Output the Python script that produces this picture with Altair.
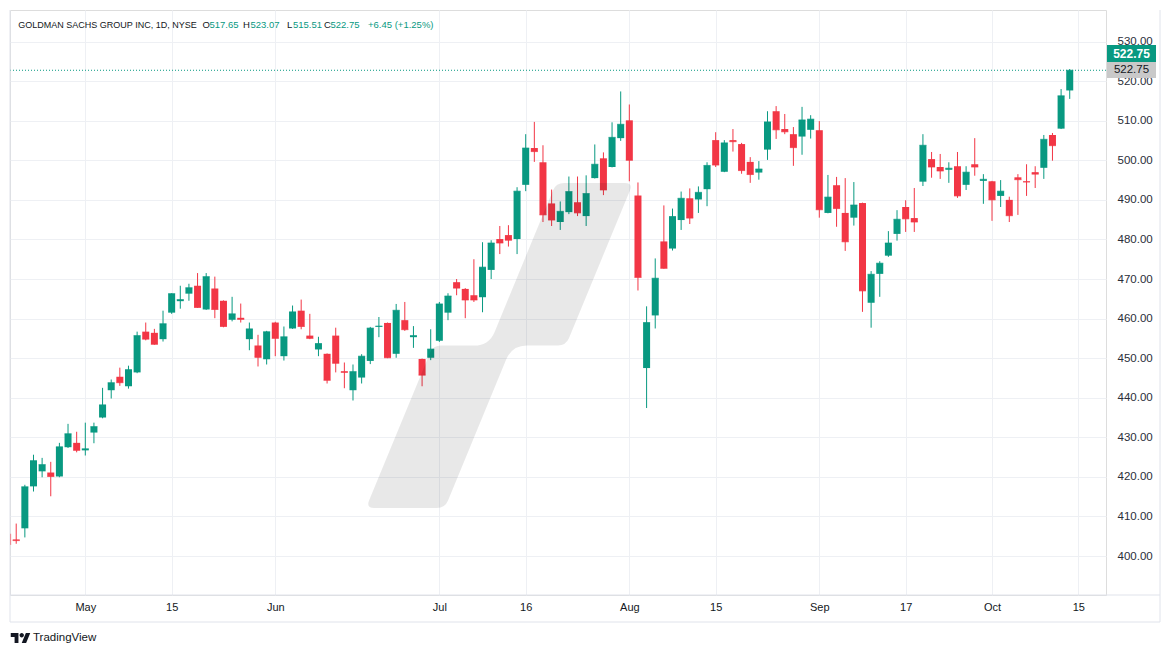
import math
import altair as alt
import pandas as pd

# ---------------- data (daily candles, 18 Apr 2024 .. 14 Oct 2024) ----------------
# trading-day index: 0 = 1 May 2024
first_index = -9
opens = [405.6, 404.2, 407.0, 417.6, 421.4, 421.1, 420.1, 427.5, 428.6,
         426.7, 431.2, 435.0, 441.9, 445.3, 442.9, 446.4, 456.7, 456.4, 454.8, 461.5, 464.4, 466.3,
         468.3, 462.3, 467.6, 464.5, 459.7, 460.2, 454.8, 453.2, 449.7,
         459.0, 450.5, 457.5, 462.0, 455.7, 452.2, 451.1, 455.7, 446.7, 441.9, 445.1, 449.3,
         457.9, 458.9, 451.1, 459.6, 455.3, 449.8, 450.1,
         454.4, 461.5, 469.2, 467.5, 465.9, 465.4, 472.3, 480.1, 481.1, 480.1, 493.8, 503.1,
         499.5, 489.1, 484.4, 486.9, 489.4, 485.9, 495.5, 500.5, 498.3, 505.6,
         510.1, 491.1, 447.5, 460.8, 479.5, 477.7, 484.9, 490.4, 490.1, 492.7, 505.1, 497.1,
         505.1, 504.1, 499.6, 496.9, 502.7, 512.4, 507.9, 506.6, 506.0, 507.7,
         507.6, 486.7, 493.7, 486.7, 485.5, 489.2, 464.0, 471.3, 475.9, 481.4, 488.2, 485.4,
         494.6, 500.3, 498.3, 497.6, 498.5, 493.8, 499.0, 494.8,
         494.7, 491.0, 490.0, 495.7, 494.7, 497.0, 498.1, 506.4, 508.0, 517.65]
highs = [405.8, 408.2, 418.0, 425.6, 424.8, 423.8, 428.6, 433.4, 431.4,
         433.7, 433.7, 442.5, 444.6, 447.6, 448.1, 456.7, 459.0, 457.4, 462.0, 466.4, 468.3, 468.8,
         471.5, 471.5, 470.6, 464.6, 465.5, 463.8, 459.0, 455.9, 456.9,
         459.2, 458.0, 463.3, 464.8, 461.2, 455.4, 451.2, 457.7, 448.9, 448.4, 451.0, 457.9,
         460.4, 459.0, 463.7, 464.2, 458.1, 449.9, 457.3,
         464.2, 466.4, 470.0, 467.7, 475.0, 479.3, 479.8, 483.4, 483.6, 493.2, 506.6, 509.7,
         503.8, 492.6, 489.6, 495.9, 495.9, 496.2, 504.0, 502.0, 509.6, 517.4,
         514.1, 494.4, 463.1, 475.2, 488.6, 487.8, 492.1, 492.9, 493.4, 499.5, 507.1, 505.1,
         507.9, 504.4, 500.8, 499.8, 512.4, 513.7, 511.7, 508.4, 513.5, 511.4,
         509.9, 496.3, 495.8, 495.5, 494.5, 489.3, 472.0, 474.5, 482.1, 487.4, 489.9, 493.0,
         506.6, 502.1, 501.6, 499.5, 502.1, 498.5, 505.6, 496.5,
         494.8, 495.0, 490.8, 496.5, 499.0, 498.5, 506.4, 506.9, 518.0, 523.07]
lows = [402.9, 403.1, 404.7, 416.3, 419.9, 415.1, 419.9, 427.3, 426.2,
        425.4, 428.5, 434.8, 439.8, 443.0, 442.3, 446.2, 454.5, 453.4, 454.2, 461.2, 462.5, 464.5,
        462.7, 462.2, 460.1, 457.8, 459.3, 459.0, 452.0, 447.9, 448.4,
        450.5, 449.4, 457.4, 457.3, 454.8, 450.5, 443.6, 446.4, 442.4, 439.3, 443.6, 448.5,
        455.3, 450.0, 450.1, 456.9, 452.6, 442.9, 449.5,
        454.1, 459.6, 465.9, 460.1, 464.2, 461.6, 470.0, 476.3, 478.2, 476.3, 492.2, 499.6,
        484.4, 483.4, 482.4, 486.4, 485.9, 483.4, 495.4, 491.2, 498.2, 504.9,
        494.7, 467.1, 437.4, 457.5, 472.6, 477.2, 482.4, 483.9, 486.7, 488.4, 498.3, 497.0,
        502.2, 496.6, 494.3, 495.1, 500.1, 505.4, 506.6, 498.6, 501.4, 505.5,
        485.5, 486.6, 483.2, 477.1, 483.5, 461.7, 457.7, 465.5, 475.6, 479.7, 481.9, 481.9,
        493.5, 495.6, 495.3, 494.3, 490.5, 492.5, 496.1, 489.0,
        484.7, 488.2, 484.4, 486.2, 491.0, 493.0, 495.3, 499.9, 507.9, 515.51]
closes = [402.9, 403.9, 417.5, 424.1, 423.1, 420.1, 427.6, 430.9, 426.7,
          427.1, 432.7, 438.2, 443.8, 443.8, 447.1, 455.7, 454.8, 453.5, 458.7, 466.3, 464.8, 467.8,
          462.8, 470.6, 462.3, 458.0, 461.2, 459.8, 457.4, 450.2, 456.7,
          455.0, 455.4, 461.7, 458.0, 455.0, 453.7, 444.4, 448.7, 446.4, 446.6, 450.5, 457.6,
          458.1, 450.1, 462.1, 457.2, 455.7, 445.7, 452.3,
          463.7, 465.7, 467.7, 464.7, 464.7, 473.0, 479.1, 479.1, 479.8, 492.2, 503.1, 502.2,
          486.2, 484.9, 487.1, 492.1, 486.7, 491.6, 499.0, 492.5, 505.8, 509.1,
          500.0, 470.4, 459.0, 470.2, 472.7, 485.8, 490.4, 485.4, 491.9, 498.7, 498.8, 504.4,
          504.7, 497.4, 496.4, 497.8, 509.7, 507.7, 507.2, 503.2, 510.2, 510.4,
          487.5, 490.7, 487.8, 479.4, 488.7, 467.0, 471.2, 474.0, 479.1, 485.1, 485.2, 484.4,
          503.8, 498.3, 497.3, 498.0, 491.0, 497.0, 498.3, 495.2,
          490.0, 492.2, 486.0, 495.1, 494.5, 496.5, 505.3, 503.7, 516.3, 522.75]

# time-axis ticks (trading-day index -> label)
tick_idx = [0, 10, 22, 41, 51, 63, 73, 85, 95, 105, 115]
tick_labels = ["May", "15", "Jun", "Jul", "16", "Aug", "15", "Sep", "17", "Oct", "15"]
price_ticks = list(range(400, 531, 10))

title_text = "GOLDMAN SACHS GROUP INC, 1D, NYSE"

# ---------------- style ----------------
W, H = 1096, 585
FONT = "Liberation Sans"
UP, DOWN = "#089981", "#f23645"
TXT = "#131722"
GRID = "#eef0f4"
FRAME = "#e0e3eb"

df = pd.DataFrame({
    "i": list(range(first_index, first_index + len(opens))),
    "o": opens, "h": highs, "l": lows, "c": closes,
})

xscale = alt.Scale(domain=[-8.72, 118.2], nice=False, zero=False, padding=0)
yscale = alt.Scale(domain=[390.15, 537.98], nice=False, zero=False, padding=0)

label_expr = " : ".join(f"datum.value == {v} ? '{t}'" for v, t in zip(tick_idx, tick_labels)) + " : ''"

xaxis = alt.Axis(values=tick_idx, labelExpr=label_expr, grid=True, gridColor=GRID, gridWidth=1,
                 domain=False, ticks=False, labelPadding=12, labelBaseline="middle",
                 labelFont=FONT, labelFontSize=11, labelColor=TXT, labelFlush=False,
                 labelOverlap=False, title=None)
yaxis = alt.Axis(orient="right", values=price_ticks, format=".2f", grid=True, gridColor=GRID,
                 gridWidth=1, domain=False, ticks=False, labelPadding=11, labelAlign="left",
                 labelFont=FONT, labelFontSize=11.5, labelColor="#2a2e39", title=None,
                 labelOverlap=False, labelFlush=False)

X = alt.X("i:Q", scale=xscale, axis=xaxis)
color = alt.Color("dir:N", scale=alt.Scale(domain=["up", "down"], range=[UP, DOWN]), legend=None)

base = alt.Chart(df).transform_calculate(dir="datum.c >= datum.o ? 'up' : 'down'")

wicks = base.mark_rule(strokeWidth=1, clip=True).encode(
    x=X, y=alt.Y("l:Q", scale=yscale, axis=yaxis), y2="h:Q", color=color)
bodies = base.mark_bar(size=7, clip=True).encode(
    x=X, y=alt.Y("o:Q", scale=yscale, axis=yaxis), y2="c:Q", color=color)
thin = base.mark_tick(orient="horizontal", size=7, thickness=1, clip=True).encode(
    x=X, y=alt.Y("c:Q", scale=yscale, axis=yaxis), color=color)

last_df = pd.DataFrame({"p": [closes[-1]]})
price_line = alt.Chart(last_df).mark_rule(color=UP, strokeDash=[1, 2], strokeWidth=1).encode(
    y=alt.Y("p:Q", scale=yscale, axis=yaxis))


# ---------------- decorations ----------------
def rounded_path(pts, radii, cx, cy, half):
    n = len(pts)
    cmds = []
    for k in range(n):
        p0, p1, p2 = pts[k - 1], pts[k], pts[(k + 1) % n]
        r = radii[k]
        d1 = (p0[0] - p1[0], p0[1] - p1[1]); l1 = math.hypot(*d1)
        d2 = (p2[0] - p1[0], p2[1] - p1[1]); l2 = math.hypot(*d2)
        a = (p1[0] + d1[0] / l1 * r, p1[1] + d1[1] / l1 * r)
        b = (p1[0] + d2[0] / l2 * r, p1[1] + d2[1] / l2 * r)
        f = lambda q: f"{(q[0] - cx) / half:.4f},{(q[1] - cy) / half:.4f}"
        cmds.append(("L" if k else "M") + f(a))
        cmds.append("Q" + f(p1) + " " + f(b))
    return " ".join(cmds) + " Z"


wm_pts = [(556, 183), (633, 183), (566, 345.5), (512, 345.5), (445, 508), (366, 508),
          (433, 345.5), (489, 345.5)]
wm_r = [8, 8, 8, 15, 8, 8, 8, 15]
wm_path = rounded_path(wm_pts, wm_r, 499.5, 345.5, 162.5)
one = pd.DataFrame({"k": [0]})
watermark = alt.Chart(one).mark_point(shape=wm_path, size=325 ** 2, filled=True, color="#000000",
                                      opacity=0.09, strokeWidth=0).encode(
    x=alt.value(489.5), y=alt.value(335.5))


def txt(s, x, y, color, size, weight="normal", align="left"):
    return alt.Chart(pd.DataFrame({"t": [s]})).mark_text(
        align=align, baseline="middle", font=FONT, fontSize=size, color=color,
        fontWeight=weight).encode(x=alt.value(x), y=alt.value(y), text="t:N")


chg = closes[-1] - closes[-2]
pct = chg / closes[-2] * 100
header = [
    txt(title_text, 8.3, 15, TXT, 9),
    txt("O", 192.5, 15, TXT, 9.5), txt(f"{opens[-1]:.2f}", 199.5, 15, UP, 9.5),
    txt("H", 233, 15, TXT, 9.5), txt(f"{highs[-1]:.2f}", 240.5, 15, UP, 9.5),
    txt("L", 277, 15, TXT, 9.5), txt(f"{lows[-1]:.2f}", 283, 15, UP, 9.5),
    txt("C", 314, 15, TXT, 9.5), txt(f"{closes[-1]:.2f}", 320.5, 15, UP, 9.5),
    txt(f"{chg:+.2f} ({pct:+.2f}%)", 358, 15, UP, 9.5),
]

box_green = alt.Chart(one).mark_rect(color=UP).encode(
    x=alt.value(1097), x2=alt.value(1146), y=alt.value(35), y2=alt.value(52))
box_gray = alt.Chart(one).mark_rect(color="#c9c9c9").encode(
    x=alt.value(1097), x2=alt.value(1146), y=alt.value(52), y2=alt.value(68))
lab_green = txt(f"{closes[-1]:.2f}", 1121.5, 43.8, "#ffffff", 12, "bold", "center")
lab_gray = txt(f"{closes[-1]:.2f}", 1121.5, 60.3, TXT, 11.5, "normal", "center")


def rule(x, x2, y, y2):
    return alt.Chart(one).mark_rule(color=FRAME, strokeWidth=1).encode(
        x=alt.value(x), x2=alt.value(x2), y=alt.value(y), y2=alt.value(y2))


frame = [rule(0, 0, 0, 612), rule(1150, 1150, 0, 612), rule(0, 1150, 612, 612),
         rule(0, 1150, 585, 585)]

logo_path = ("M-0.211,0.507 L-0.606,0.507 L-0.606,-0.113 L-1,-0.113 L-1,-0.507 L-0.211,-0.507 Z "
             "M0.577,0.507 L0.127,0.507 L0.549,-0.507 L1,-0.507 Z "
             "M0.352,-0.282 A0.225,0.225 0 1 0 -0.098,-0.282 A0.225,0.225 0 1 0 0.352,-0.282 Z")
logo = alt.Chart(one).mark_point(shape=logo_path, size=380, filled=True, color=TXT, opacity=1,
                                 strokeWidth=0).encode(x=alt.value(10.5), y=alt.value(628))
logo_text = txt("TradingView", 23, 628, TXT, 11.5)

chart = alt.layer(
    wicks, bodies, thin, price_line, watermark, box_green, box_gray, lab_green, lab_gray,
    *header, *frame, logo, logo_text,
).properties(
    width=W, height=H,
    padding={"left": 2, "top": 2, "right": 55, "bottom": 50},
    autosize=alt.AutoSizeParams(type="none"),
).configure_view(strokeWidth=0).configure(background="white")

chart.save("out.html", embed_options={"renderer": "svg", "actions": False})
